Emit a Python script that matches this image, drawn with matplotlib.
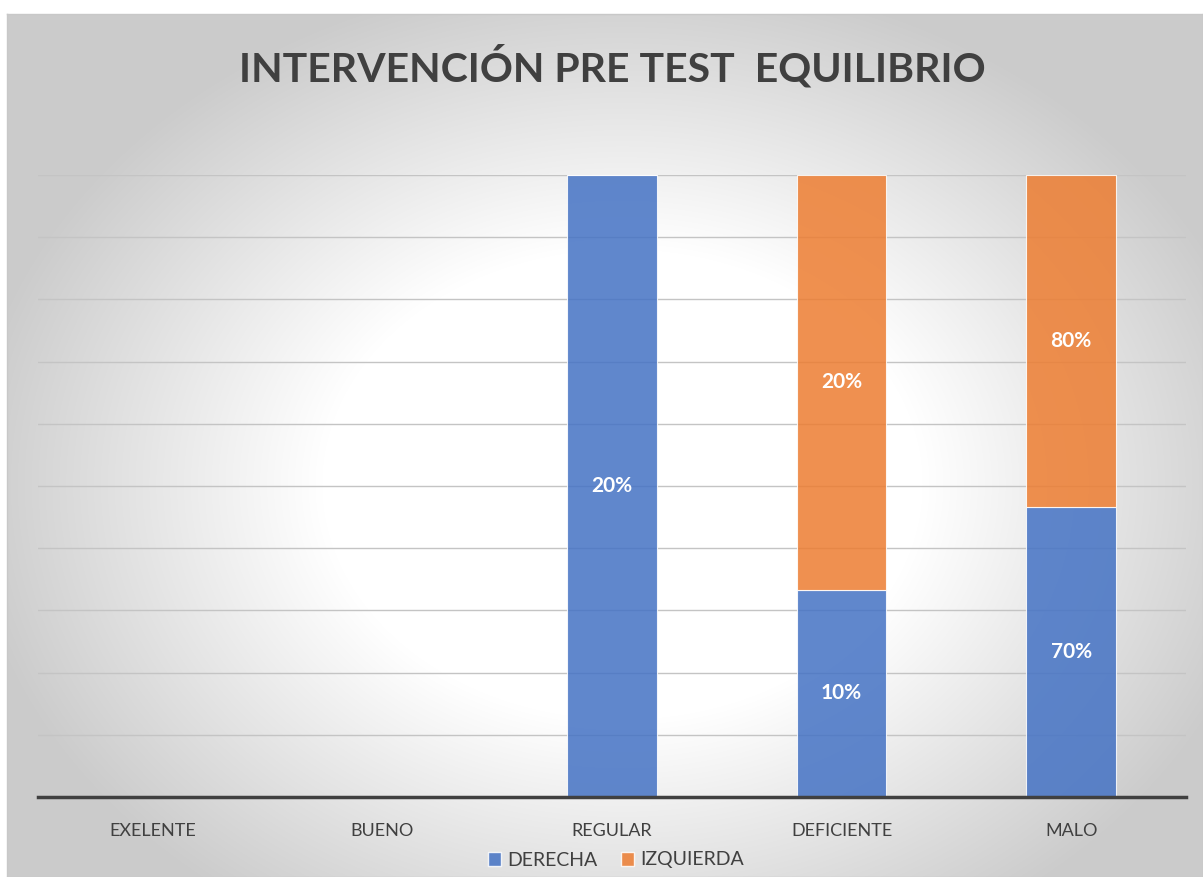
import numpy as np
import matplotlib.pyplot as plt
from matplotlib.patches import Patch

categories = ['EXELENTE', 'BUENO', 'REGULAR', 'DEFICIENTE', 'MALO']
derecha = [0, 0, 20, 10, 70]
izquierda = [0, 0, 0, 20, 80]

blue = '#4472C4'
orange = '#ED7D31'
font = ['Lato', 'DejaVu Sans']
plt.rcParams['font.family'] = font

W, H = 1203, 877
fig = plt.figure(figsize=(W / 100, H / 100), dpi=100)
fig.patch.set_facecolor('white')

# background gradient: white oval in the middle, grey towards the edges
bg = fig.add_axes([7 / W, 0, 1 - 7 / W, 1 - 14 / H], zorder=-10)
yy, xx = np.mgrid[0:863, 0:1196]
r = np.sqrt(((xx - 615) / 600) ** 2 + ((yy - 470) / 470) ** 2)
val = (255 - 52 * np.clip((r - 0.5) / 0.6, 0, 1)) / 255
bg.imshow(np.dstack([val, val, val]), aspect='auto', extent=[0, 1, 0, 1])
bg.set_xlim(0, 1)
bg.set_ylim(0, 1)
bg.set_xticks([])
bg.set_yticks([])
for s in bg.spines.values():
    s.set_color('#c8c8c8')
    s.set_linewidth(1)

ax = fig.add_axes([38 / W, 1 - 797 / H, (1186 - 38) / W, (797 - 175) / H])
ax.set_facecolor('none')

der = np.array(derecha, float)
izq = np.array(izquierda, float)
tot = der + izq
tot[tot == 0] = 1
pd_ = der / tot * 100
pi_ = izq / tot * 100
x = np.arange(len(categories))
w = 0.39

ax.bar(x, pd_, w, color=blue, alpha=0.85, edgecolor='white', linewidth=0.8, zorder=3)
ax.bar(x, pi_, w, bottom=pd_, color=orange, alpha=0.85, edgecolor='white', linewidth=0.8, zorder=3)

for i in range(len(categories)):
    if derecha[i] > 0:
        ax.text(x[i], pd_[i] / 2, f'{derecha[i]}%', ha='center', va='center',
                color='white', fontsize=15, fontweight='bold', zorder=4)
    if izquierda[i] > 0:
        ax.text(x[i], pd_[i] + pi_[i] / 2, f'{izquierda[i]}%', ha='center', va='center',
                color='white', fontsize=15, fontweight='bold', zorder=4)

ax.set_xlim(-0.5, len(categories) - 0.5)
ax.set_ylim(0, 100)
ax.set_yticks(np.arange(0, 101, 10))
ax.yaxis.grid(True, color='#c4c4c4', linewidth=1, zorder=0)
ax.set_yticklabels([])
ax.tick_params(axis='y', length=0)
ax.set_xticks(x)
ax.set_xticklabels(categories, fontsize=13, color='#404040')
ax.tick_params(axis='x', length=0, pad=19)
for s in ['top', 'right', 'left']:
    ax.spines[s].set_visible(False)
ax.spines['bottom'].set_color('#404040')
ax.spines['bottom'].set_linewidth(2.5)
ax.spines['bottom'].set_zorder(5)

fig.text(0.509, 1 - 67 / H, 'INTERVENCIÓN PRE TEST  EQUILIBRIO', ha='center', va='center',
         fontsize=29.5, fontweight='bold', color='#404040')

handles = [Patch(facecolor=blue, alpha=0.85, edgecolor='white'),
           Patch(facecolor=orange, alpha=0.85, edgecolor='white')]
fig.legend(handles, ['DERECHA', 'IZQUIERDA'], loc='center', bbox_to_anchor=(0.512, 1 - 860 / H),
           ncol=2, frameon=False, fontsize=14, handlelength=0.7, handleheight=0.7,
           handletextpad=0.3, columnspacing=1.2, labelcolor='#404040')

fig.savefig('out.png', dpi=100)
